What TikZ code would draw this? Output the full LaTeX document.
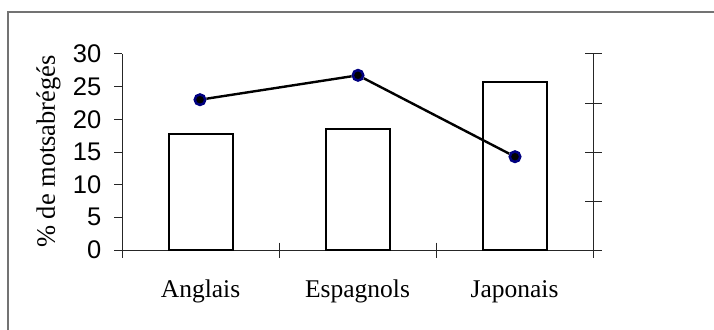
\documentclass[tikz,border=0pt]{standalone}
\usepackage{fontspec}
\setmainfont{Liberation Serif}
\setsansfont{Liberation Sans}
\definecolor{navyblue}{RGB}{0,0,128}
\tikzset{
    bar/.style={draw=black, line width=2.2pt, fill=white},
    dot/.style={circle, draw=navyblue, fill=black, line width=2.5pt, inner sep=0pt, minimum size=10.5pt},
    axis/.style={draw=black!85, line width=1pt},
    ticklabel/.style={anchor=east, inner sep=0pt, font=\sffamily\fontsize{25.5}{28}\selectfont},
    catlabel/.style={anchor=base, inner sep=0pt, font=\fontsize{25.5}{28}\selectfont}
}
\begin{document}
\begin{tikzpicture}[x=1pt, y=-1pt]
    \useasboundingbox (0,0) rectangle (714,329);
    % frame
    \draw[black!55, line width=1.5pt] (8,330) -- (8,12) -- (715,12);
    % axes
    \draw[axis] (122,54) -- (122,258);
    \draw[axis] (593.3,54) -- (593.3,258);
    \draw[axis] (114,250) -- (601.5,250);
    \foreach \y/\v in {250/0, 217.3/5, 184.7/10, 152/15, 119.3/20, 86.7/25, 54/30} {
        \draw[axis] (114,\y) -- (122,\y);
        \node[ticklabel] (tick\v) at (101.5,\y) {\v};
    }
    \foreach \y in {54, 103, 152, 201, 250}
        \draw[axis] (585.3,\y) -- (601.5,\y);
    \foreach \x in {279.3, 436.3}
        \draw[axis] (\x,242.7) -- (\x,258);
    \node[rotate=90, inner sep=0pt, font=\fontsize{26.5}{28}\selectfont] (ylabel) at (48.5,151.5) {\% de motsabrégés};
    % bars
    \draw[bar] (169.3,250) rectangle (232.7,134.3);
    \draw[bar] (326,250) rectangle (390,129.3);
    \draw[bar] (483.3,250) rectangle (546.7,81.7);
    % line
    \node[dot] (anglais) at (200,99.7) {};
    \node[dot] (espagnols) at (358,75.3) {};
    \node[dot] (japonais) at (515,156.7) {};
    \draw[black, line width=2.4pt] (anglais) -- (espagnols) -- (japonais);
    % categories
    \node[catlabel] (catA) at (200.5,297.5) {Anglais};
    \node[catlabel] (catE) at (357.5,297.5) {Espagnols};
    \node[catlabel] (catJ) at (514.5,297.5) {Japonais};
\end{tikzpicture}
\end{document}
